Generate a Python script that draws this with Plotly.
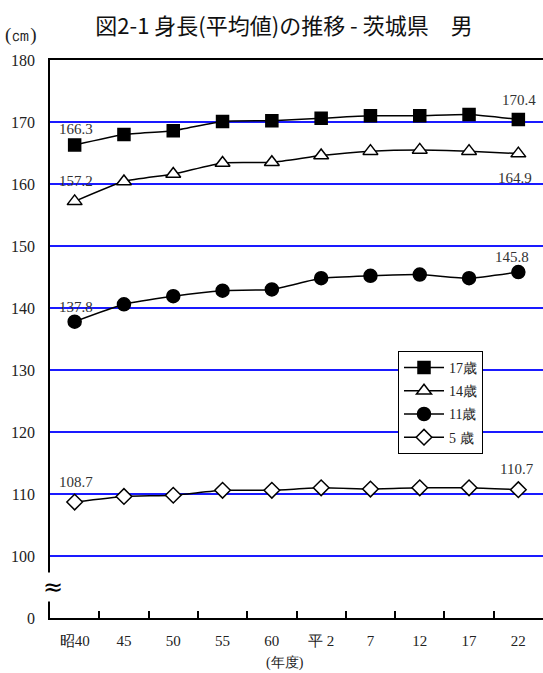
import plotly.graph_objects as go

years = ["昭40", "45", "50", "55", "60", "平 2", "7", "12", "17", "22"]
age17 = [166.3, 168.0, 168.6, 170.1, 170.2, 170.6, 171.0, 171.0, 171.2, 170.4]
age14 = [157.2, 160.4, 161.6, 163.4, 163.5, 164.6, 165.3, 165.5, 165.3, 164.9]
age11 = [137.8, 140.6, 141.9, 142.8, 143.0, 144.8, 145.2, 145.4, 144.8, 145.8]
age5 = [108.7, 109.6, 109.8, 110.6, 110.6, 111.0, 110.8, 111.0, 111.0, 110.7]
series_names = ["17歳", "14歳", "11歳", "5 歳"]
ytick_vals = [90, 100, 110, 120, 130, 140, 150, 160, 170, 180]
ytick_text = ["0", "100", "110", "120", "130", "140", "150", "160", "170", "180"]

SERIF = "Liberation Serif, DejaVu Serif, serif"
SANS = "Noto Sans CJK JP, sans-serif"

fig = go.Figure()
styles = [
    ("square", "black", 12),
    ("triangle-up", "white", 13),
    ("circle", "black", 13),
    ("diamond", "white", 12),
]
all_series = [age17, age14, age11, age5]
for name, vals, (sym, fill, size) in zip(series_names, all_series, styles):
    fig.add_trace(go.Scatter(
        x=list(range(len(years))), y=vals, name=name, mode="lines+markers",
        line=dict(color="black", width=1.5, shape="spline", smoothing=0.5),
        marker=dict(symbol=sym, color=fill, size=size, line=dict(color="black", width=1.5)),
        legendgroup=name,
    ))

# invisible trace to carry the label axis
fig.add_trace(go.Scatter(x=[0], y=[100], xaxis="x2", mode="markers",
                         marker=dict(opacity=0), showlegend=False, hoverinfo="skip"))

# data labels: (series index, point index, dx, dy up)
label_specs = [
    (0, 0, 1, 16), (1, 0, 1, 20), (2, 0, 1, 15), (3, 0, 1, 20),
    (0, 9, 1, 20), (1, 9, -3, -24), (2, 9, -6, 15), (3, 9, -1, 21),
]
for si, pi, dx, dy in label_specs:
    v = all_series[si][pi]
    fig.add_annotation(x=pi, y=v, text=f"{v:.1f}", showarrow=False, xshift=dx, yshift=dy,
                       font=dict(family=SERIF, size=15, color="#333333"))

# axis break marker
fig.add_annotation(xref="paper", yref="y", x=0, y=95, text="≈", showarrow=False,
                   xanchor="center", yanchor="middle", xshift=3,
                   bgcolor="white", borderpad=0,
                   font=dict(family="DejaVu Sans", size=24, color="black"))

fig.add_annotation(xref="paper", yref="paper", x=(285 - 50) / 493, y=-(663 - 618) / 558,
                   text="(年度)", showarrow=False, yanchor="middle",
                   font=dict(family=SERIF, size=14, color="#222222"))
fig.add_annotation(xref="paper", yref="paper", x=(3 - 50) / 493, y=(618 - 35) / 558,
                   text="(㎝)", showarrow=False, xanchor="left", yanchor="middle",
                   font=dict(family=SERIF, size=19, color="#222222"))

fig.update_layout(
    width=543, height=673,
    margin=dict(l=50, r=0, t=60, b=55),
    paper_bgcolor="white", plot_bgcolor="white",
    title=dict(text="図2-1 身長(平均値)の推移 - 茨城県　男", x=284 / 543, xanchor="center",
               y=1 - 26 / 673, yanchor="middle",
               font=dict(family=SANS, size=22, color="#111111")),
    showlegend=True,
    legend=dict(x=(398 - 50) / 493, y=(618 - 351) / 558, xanchor="left", yanchor="top",
                bgcolor="white", bordercolor="black", borderwidth=1,
                font=dict(family=SERIF, size=14, color="#222222"),
                tracegroupgap=2, itemwidth=40),
    xaxis=dict(range=[-0.5, 9.5], showgrid=True, gridcolor="rgba(0,0,0,0)", zeroline=False,
               tickmode="array", tickvals=[i + 0.5 for i in range(len(years) - 1)],
               ticktext=[""] * (len(years) - 1),
               showline=True, linecolor="black", linewidth=2, mirror=True,
               ticks="inside", ticklen=7, tickwidth=1.5, tickcolor="black"),
    xaxis2=dict(range=[-0.5, 9.5], overlaying="x", side="bottom", anchor="y",
                showgrid=False, zeroline=False, showline=False,
                tickmode="array", tickvals=list(range(len(years))), ticktext=years,
                ticks="",
                tickfont=dict(family=SERIF, size=15, color="#222222"),
                ticklabelstandoff=12),
    yaxis=dict(range=[90, 180], tickvals=ytick_vals, ticktext=ytick_text,
               showgrid=True, gridcolor="#1a1aff", gridwidth=1.5,
               showline=True, linecolor="black", linewidth=1.5,
               zeroline=False, ticks="",
               tickfont=dict(family=SERIF, size=16, color="#222222"),
               ticklabelstandoff=10),
)

fig.write_html("out.html", config={"displayModeBar": False},
               post_script="document.body.style.margin='0';")
